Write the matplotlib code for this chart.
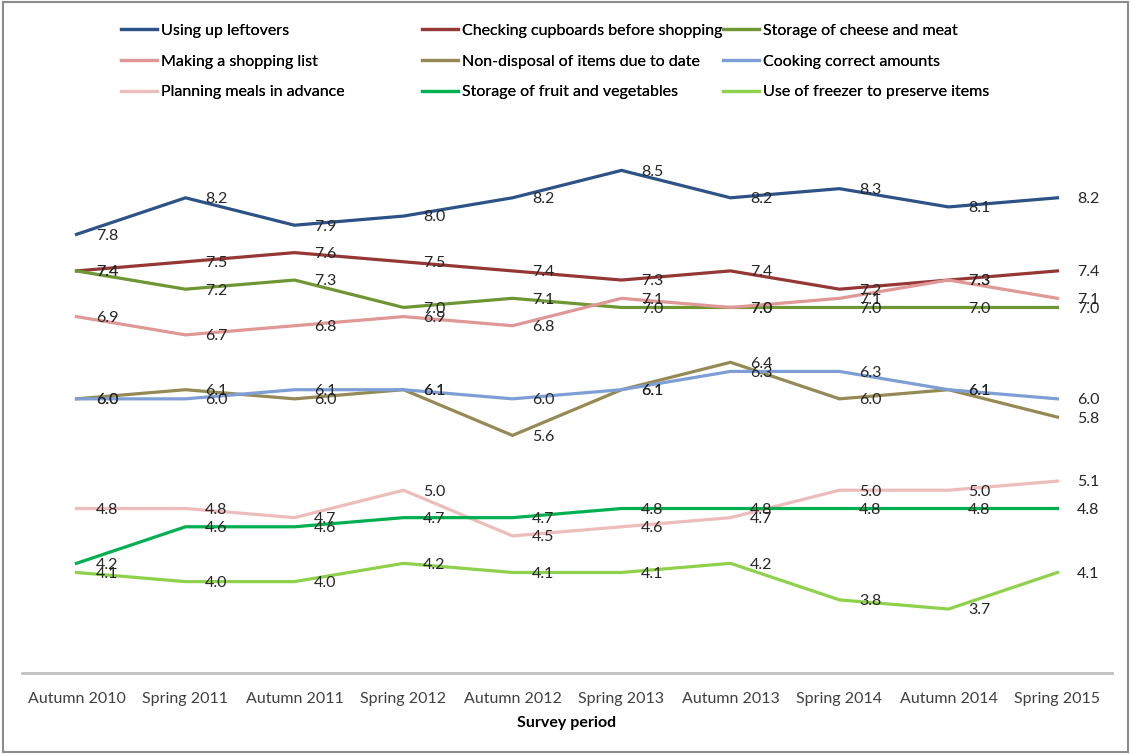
import matplotlib.pyplot as plt
from matplotlib.patches import Rectangle

plt.rcParams['font.family'] = ['Lato', 'DejaVu Sans']

periods = ['Autumn 2010', 'Spring 2011', 'Autumn 2011', 'Spring 2012', 'Autumn 2012',
           'Spring 2013', 'Autumn 2013', 'Spring 2014', 'Autumn 2014', 'Spring 2015']

leftovers = [7.8, 8.2, 7.9, 8.0, 8.2, 8.5, 8.2, 8.3, 8.1, 8.2]
cupboards = [7.4, 7.5, 7.6, 7.5, 7.4, 7.3, 7.4, 7.2, 7.3, 7.4]
cheese_meat = [7.4, 7.2, 7.3, 7.0, 7.1, 7.0, 7.0, 7.0, 7.0, 7.0]
shopping_list = [6.9, 6.7, 6.8, 6.9, 6.8, 7.1, 7.0, 7.1, 7.3, 7.1]
non_disposal = [6.0, 6.1, 6.0, 6.1, 5.6, 6.1, 6.4, 6.0, 6.1, 5.8]
correct_amounts = [6.0, 6.0, 6.1, 6.1, 6.0, 6.1, 6.3, 6.3, 6.1, 6.0]
planning_meals = [4.8, 4.8, 4.7, 5.0, 4.5, 4.6, 4.7, 5.0, 5.0, 5.1]
fruit_veg = [4.2, 4.6, 4.6, 4.7, 4.7, 4.8, 4.8, 4.8, 4.8, 4.8]
freezer = [4.1, 4.0, 4.0, 4.2, 4.1, 4.1, 4.2, 3.8, 3.7, 4.1]

series = [
    ('Using up leftovers', leftovers, '#2C5287'),
    ('Checking cupboards before shopping', cupboards, '#953735'),
    ('Storage of cheese and meat', cheese_meat, '#6E9632'),
    ('Making a shopping list', shopping_list, '#E09896'),
    ('Non-disposal of items due to date', non_disposal, '#958A55'),
    ('Cooking correct amounts', correct_amounts, '#7E9FD6'),
    ('Planning meals in advance', planning_meals, '#EDBDBC'),
    ('Storage of fruit and vegetables', fruit_veg, '#00B050'),
    ('Use of freezer to preserve items', freezer, '#8ED14A'),
]

fig = plt.figure(figsize=(11.31, 7.54), dpi=100)
fig.patches.append(Rectangle((0.003, 0.003), 0.994, 0.994, transform=fig.transFigure,
                             fill=False, edgecolor='#8C8C8C', lw=1.5))

ax = fig.add_axes([22 / 1131, 81 / 754, 1090 / 1131, 594 / 754])
x = list(range(len(periods)))
handles = []
for name, vals, col in series:
    h, = ax.plot(x, vals, color=col, lw=2.3, solid_joinstyle='miter', label=name)
    handles.append(h)
    for xi, v in zip(x, vals):
        ax.annotate(f'{v:.1f}', (xi, v), xytext=(14, -1), textcoords='offset points',
                    ha='left', va='center', fontsize=11.5, color='#262626')

ax.set_xlim(-0.5, len(periods) - 0.5)
ax.set_ylim(3.0, 9.5)
ax.set_yticks([])
ax.set_xticks(x)
ax.set_xticklabels(periods, fontsize=11.5, color='#404040')
ax.tick_params(axis='x', length=0, pad=14)
for s in ['top', 'left', 'right']:
    ax.spines[s].set_visible(False)
ax.spines['bottom'].set_color('#C0C0C0')
ax.spines['bottom'].set_linewidth(2)
ax.set_xlabel('Survey period', fontsize=11.5, fontweight='bold', labelpad=7)

# legend as three equal-width columns, entries read row by row
col_x = [107, 408, 709]
for c, cx in enumerate(col_x):
    leg = fig.legend(handles=handles[c::3], loc='upper left',
                     bbox_to_anchor=(cx / 1131, 1 - 9 / 754),
                     frameon=False, fontsize=11.5, handlelength=2.2, handletextpad=0.25,
                     labelspacing=1.05)
    fig.add_artist(leg)

fig.savefig('out.png', dpi=100)
